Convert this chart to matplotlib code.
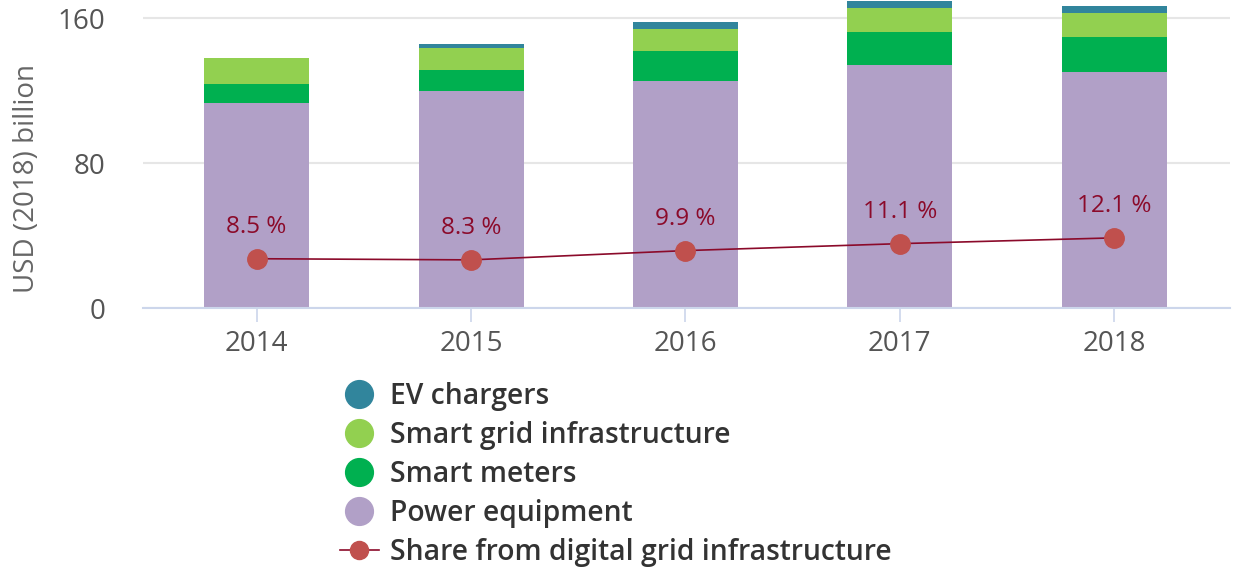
import matplotlib.pyplot as plt
from matplotlib.lines import Line2D
import numpy as np

plt.rcParams['font.family'] = ['Open Sans', 'DejaVu Sans']

years = ["2014", "2015", "2016", "2017", "2018"]
power_equipment = [113.1, 119.7, 125.2, 134.1, 130.2]
smart_meters = [10.5, 11.6, 16.6, 18.2, 19.3]
smart_grid = [14.3, 12.1, 12.1, 13.2, 13.3]
ev_chargers = [0.3, 2.3, 3.9, 3.9, 3.8]
share = [8.5, 8.3, 9.9, 11.1, 12.1]
share_labels = ["8.5 %", "8.3 %", "9.9 %", "11.1 %", "12.1 %"]

c_power = "#b1a0c7"
c_meters = "#00b050"
c_grid = "#92d050"
c_ev = "#31859c"
c_line = "#8b0a2a"
c_marker = "#c0504d"

fig = plt.figure(figsize=(12.36, 5.68), dpi=100)
ax = fig.add_axes([143/1236, 1 - 308/568, (1230-143)/1236, 308/568])

x = np.arange(len(years))
w = 0.49
b = np.zeros(len(years))
for vals, col in [(power_equipment, c_power), (smart_meters, c_meters),
                  (smart_grid, c_grid), (ev_chargers, c_ev)]:
    ax.bar(x, vals, w, bottom=b, color=col, zorder=2)
    b = b + np.array(vals)

ax.set_xlim(-0.53, 4.54)
ax.set_ylim(0, 170)
ax.set_yticks([0, 80, 160])
ax.set_xticks(x)
ax.set_xticklabels(years)
ax.grid(axis='y', color='#e6e6e6', linewidth=1.5, zorder=0)
for s in ['top', 'right', 'left']:
    ax.spines[s].set_visible(False)
ax.spines['bottom'].set_color('#ccd6eb')
ax.spines['bottom'].set_linewidth(1.5)
ax.tick_params(axis='y', length=0, labelsize=20, labelcolor='#555555', pad=27)
ax.tick_params(axis='x', length=10, width=1.2, color='#ccd6eb', labelsize=20,
               labelcolor='#555555', pad=6)
ax.set_ylabel("USD (2018) billion", fontsize=20, color='#666666')
ax.yaxis.set_label_coords(-0.094, 0.42)

ax2 = ax.twinx()
ax2.set_ylim(0, 170/3.2)
ax2.plot(x, share, color=c_line, linewidth=1.2, zorder=3)
ax2.plot(x, share, 'o', color=c_marker, markersize=14, zorder=4)
for xi, s, lab in zip(x, share, share_labels):
    ax2.annotate(lab, (xi, s), xytext=(0, 14), textcoords='offset points',
                 ha='center', va='bottom', fontsize=17.5, color=c_line)
ax2.axis('off')

handles = [
    Line2D([], [], marker='o', linestyle='none', color=c_ev, markersize=20),
    Line2D([], [], marker='o', linestyle='none', color=c_grid, markersize=20),
    Line2D([], [], marker='o', linestyle='none', color=c_meters, markersize=20),
    Line2D([], [], marker='o', linestyle='none', color=c_power, markersize=20),
    Line2D([], [], marker='o', color=c_line, markerfacecolor=c_marker,
           markeredgecolor=c_marker, markersize=13, linewidth=1.2),
]
labels = ["EV chargers", "Smart grid infrastructure", "Smart meters",
          "Power equipment", "Share from digital grid infrastructure"]
fig.legend(handles, labels, loc='upper left', bbox_to_anchor=(320/1236, 1 - 362/568),
           frameon=False, labelspacing=0.36, handlelength=1.4,
           handletextpad=0.4, labelcolor='#333333', borderpad=0.2,
           prop={'size': 20.3, 'weight': 'semibold'})

fig.savefig("out.png", dpi=100)
